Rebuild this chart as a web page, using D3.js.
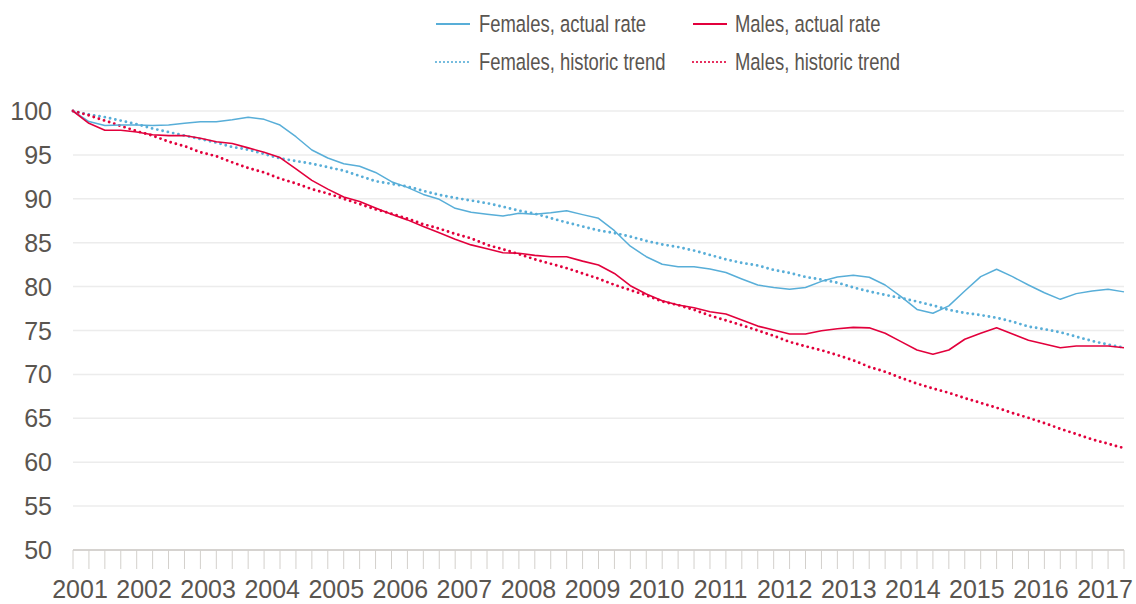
<!DOCTYPE html>
<html>
<head>
<meta charset="utf-8">
<script src="https://cdn.jsdelivr.net/npm/d3@7"></script>
<style>
  body { margin: 0; background: #fff; }
  svg { display: block; }
  .tick-label { font-family: "Liberation Sans", Arial, sans-serif; font-size: 25px; fill: #5a5550; }
  .legend-label { font-family: "Liberation Sans", Arial, sans-serif; font-size: 23.5px; fill: #5a5550; }
</style>
</head>
<body>
<div id="chart"></div>
<script>
// quarterly index, 2001 Q1 = 100
var years = d3.range(2001, 2018);
var quarters = [];
years.forEach(function(y) {
    [1, 2, 3, 4].forEach(function(q) {
        if (y < 2017 || q <= 3) quarters.push(y + " Q" + q);
    });
});
var yTicks = [50, 55, 60, 65, 70, 75, 80, 85, 90, 95, 100];

var femalesActual = [
    100, 98.8, 98.35, 98.4, 98.4, 98.35, 98.4, 98.6, 98.78, 98.78,
    99.0, 99.28, 99.05, 98.4, 97.07, 95.56, 94.65, 94.0, 93.7, 93.0,
    91.95, 91.3, 90.5, 89.94, 88.92, 88.46, 88.25, 88.04, 88.35, 88.25,
    88.4, 88.64, 88.2, 87.78, 86.37, 84.6, 83.4, 82.54, 82.27, 82.27,
    82.0, 81.6, 80.87, 80.18, 79.9, 79.7, 79.9, 80.6, 81.1, 81.3,
    81.06, 80.18, 78.85, 77.4, 76.96, 77.8, 79.5, 81.13, 81.97, 81.13,
    80.18, 79.3, 78.55, 79.2, 79.5, 79.7, 79.4
];
var malesActual = [
    100, 98.6, 97.8, 97.8, 97.6, 97.3, 97.2, 97.2, 96.9, 96.5,
    96.3, 95.8, 95.3, 94.7, 93.4, 92.1, 91.1, 90.2, 89.7, 88.95,
    88.24, 87.6, 86.85, 86.14, 85.4, 84.75, 84.3, 83.86, 83.8, 83.56,
    83.4, 83.4, 82.9, 82.46, 81.5, 80.1, 79.16, 78.4, 77.9, 77.6,
    77.14, 76.88, 76.2, 75.5, 75.06, 74.6, 74.6, 74.98, 75.2, 75.36,
    75.3, 74.68, 73.73, 72.78, 72.3, 72.78, 74.0, 74.68, 75.3, 74.6,
    73.9, 73.46, 73.04, 73.23, 73.23, 73.23, 73.04
];
var femalesTrend = [
    100, 99.6, 99.3, 98.9, 98.5, 98.0, 97.6, 97.2, 96.8, 96.4,
    95.9, 95.6, 95.1, 94.6, 94.3, 94.0, 93.6, 93.2, 92.6, 92.0,
    91.7, 91.4, 90.9, 90.45, 90.1, 89.8, 89.5, 89.1, 88.65, 88.3,
    87.8, 87.3, 86.85, 86.4, 86.1, 85.7, 85.2, 84.8, 84.5, 84.1,
    83.6, 83.1, 82.7, 82.4, 81.9, 81.55, 81.1, 80.8, 80.45, 79.9,
    79.45, 79.05, 78.7, 78.3, 77.85, 77.35, 77.0, 76.75, 76.45, 76.0,
    75.45, 75.15, 74.8, 74.3, 73.8, 73.4, 73.05
];
var malesTrend = [
    100, 99.5, 98.9, 98.3, 97.7, 97.2, 96.5, 96.0, 95.3, 94.85,
    94.15, 93.5, 93.0, 92.3, 91.75, 91.1, 90.6, 90.0, 89.4, 88.8,
    88.3, 87.75, 87.1, 86.6, 86.0, 85.5, 84.75, 84.25, 83.7, 83.1,
    82.6, 82.1, 81.5, 80.9, 80.2, 79.6, 79.0, 78.3, 77.9, 77.35,
    76.7, 76.15, 75.6, 75.0, 74.4, 73.7, 73.2, 72.75, 72.2, 71.6,
    70.85, 70.3, 69.6, 68.95, 68.4, 67.9, 67.3, 66.75, 66.2, 65.6,
    65.05, 64.45, 63.8, 63.2, 62.6, 62.1, 61.6
];

var seriesNames = ["Females, actual rate", "Males, actual rate", "Females, historic trend", "Males, historic trend"];
var seriesValues = [femalesActual, malesActual, femalesTrend, malesTrend];

var blue = "#58aed8",
    red = "#e2003c";
var styles = [
    { color: blue, width: 1.5, dash: null },
    { color: red, width: 1.6, dash: null },
    { color: blue, width: 2.9, dash: "0,5.4" },
    { color: red, width: 2.9, dash: "0,5.4" }
];

var width = 1136, height = 604;
var svg = d3.select("#chart").append("svg")
    .attr("width", width)
    .attr("height", height);

var x = d3.scalePoint().domain(quarters).range([73, 1124]);
var y = d3.scaleLinear().domain([50, 100]).range([550, 111]);
var yearX = d3.scalePoint().domain(years).range([80, 1105]);

// gridlines
svg.append("g").selectAll("line")
    .data(yTicks.slice(1))
    .enter().append("line")
    .attr("x1", x.range()[0]).attr("x2", x.range()[1])
    .attr("y1", function(d) { return y(d); })
    .attr("y2", function(d) { return y(d); })
    .attr("stroke", "#ececec")
    .attr("stroke-width", 1.5);

// x axis: base line + quarterly ticks
var xAxis = svg.append("g");
xAxis.append("line")
    .attr("x1", x.range()[0]).attr("x2", x.range()[1])
    .attr("y1", y(50)).attr("y2", y(50))
    .attr("stroke", "#c9c5c1")
    .attr("stroke-width", 1.5);
xAxis.selectAll(".q-tick")
    .data(quarters)
    .enter().append("line")
    .attr("class", "q-tick")
    .attr("x1", function(d) { return x(d); })
    .attr("x2", function(d) { return x(d); })
    .attr("y1", y(50)).attr("y2", y(50) + 19)
    .attr("stroke", "#d3d0cc")
    .attr("stroke-width", 1);
xAxis.selectAll("text")
    .data(years)
    .enter().append("text")
    .attr("class", "tick-label")
    .attr("x", function(d) { return yearX(d); })
    .attr("y", 598)
    .attr("text-anchor", "middle")
    .text(function(d) { return d; });

// y labels
svg.append("g").selectAll("text")
    .data(yTicks)
    .enter().append("text")
    .attr("class", "tick-label")
    .attr("x", 52)
    .attr("y", function(d) { return y(d); })
    .attr("dy", "0.36em")
    .attr("text-anchor", "end")
    .text(function(d) { return d; });

// series
var line = d3.line()
    .x(function(d, i) { return x(quarters[i]); })
    .y(function(d) { return y(d); });

var drawOrder = [2, 3, 0, 1];
drawOrder.forEach(function(k) {
    var s = styles[k];
    svg.append("path")
        .datum(seriesValues[k])
        .attr("d", line)
        .attr("fill", "none")
        .attr("stroke", s.color)
        .attr("stroke-width", s.width)
        .attr("stroke-linejoin", "round")
        .attr("stroke-linecap", s.dash ? "round" : "butt")
        .attr("stroke-dasharray", s.dash);
});

// legend (2 x 2), condensed text
var legend = svg.append("g");
var legX = [436, 693], legY = [24, 62];
seriesNames.forEach(function(name, k) {
    var col = k % 2, row = Math.floor(k / 2), s = styles[k];
    var g = legend.append("g")
        .attr("transform", "translate(" + legX[col] + "," + legY[row] + ")");
    g.append("line")
        .attr("x1", 0).attr("x2", 34)
        .attr("y1", 0).attr("y2", 0)
        .attr("stroke", s.color)
        .attr("stroke-width", s.dash ? 2.2 : 1.8)
        .attr("stroke-linecap", s.dash ? "round" : "butt")
        .attr("stroke-dasharray", s.dash ? "0,4" : null);
    g.append("text")
        .attr("class", "legend-label")
        .attr("transform", "translate(" + (col === 0 ? 43 : 42) + ",8) scale(0.785,1)")
        .text(name);
});
</script>
</body>
</html>
